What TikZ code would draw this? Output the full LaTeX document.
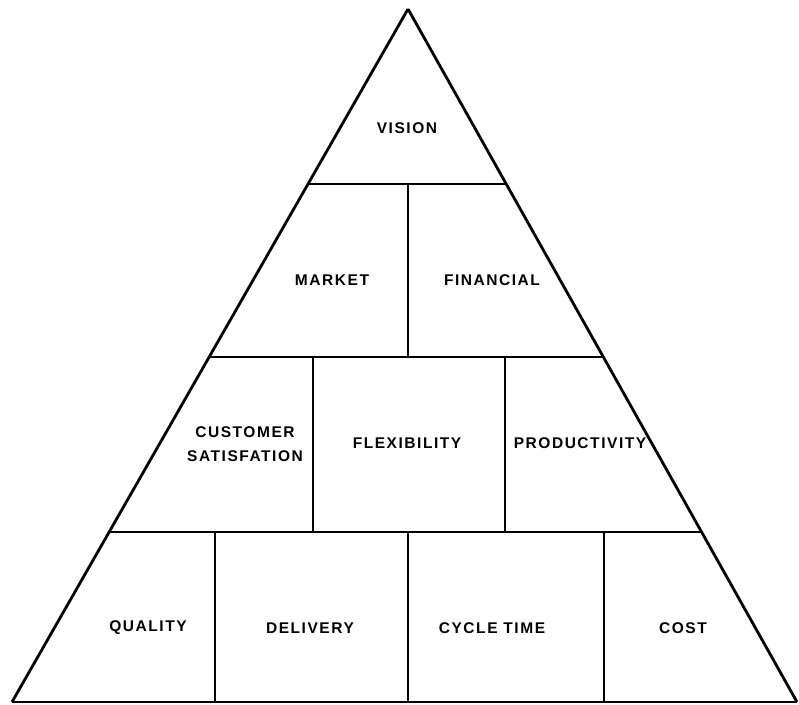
\documentclass[tikz,border=0pt]{standalone}
\usepackage{fontspec}
\setmainfont{Liberation Sans}[LetterSpace=10]
\usetikzlibrary{calc}
\begin{document}
\begin{tikzpicture}[x=1pt,y=-1pt,
  outer/.style={line width=2.8pt,line join=miter},
  inner/.style={line width=1.6pt},
  lbl/.style={font=\fontsize{15.5}{24}\selectfont\bfseries,align=center,inner sep=0pt}]
\useasboundingbox (0,0) rectangle (799,704);
\coordinate (A) at (408,9);
\coordinate (L) at (12,702);
\coordinate (R) at (797,702);
% row boundaries on the edges
\coordinate (L1) at ($(A)!0.2525!(L)$);
\coordinate (R1) at ($(A)!0.2525!(R)$);
\coordinate (L2) at ($(A)!0.5022!(L)$);
\coordinate (R2) at ($(A)!0.5022!(R)$);
\coordinate (L3) at ($(A)!0.7547!(L)$);
\coordinate (R3) at ($(A)!0.7547!(R)$);
% horizontal dividers
\draw[inner] (L1) -- (R1);
\draw[inner] (L2) -- (R2);
\draw[inner] (L3) -- (R3);
% vertical dividers
\draw[inner] (408,184) -- (408,357);
\draw[inner] (313,357) -- (313,532);
\draw[inner] (505,357) -- (505,532);
\draw[inner] (215,532) -- (215,702);
\draw[inner] (408,532) -- (408,702);
\draw[inner] (604,532) -- (604,702);
% outline
\draw[outer] (A) -- (L);
\draw[outer] (A) -- (R);
\draw[line width=2pt] (L) -- (R);
% labels
\node[lbl] (vision) at (407,128) {VISION};
\node[lbl] (market) at (332,280) {MARKET};
\node[lbl] (financial) at (492,280) {FINANCIAL};
\node[lbl] (custsat) at (245,444) {CUSTOMER\\SATISFATION};
\node[lbl] (flex) at (407,443) {FLEXIBILITY};
\node[lbl] (prod) at (580,443) {PRODUCTIVITY};
\node[lbl] (quality) at (148,628) {QUALITY};
\node[lbl] (delivery) at (310,628) {DELIVERY};
\node[lbl] (cycle) at (492,628) {CYCLE TIME};
\node[lbl] (cost) at (683,628) {COST};
\end{tikzpicture}
\end{document}
